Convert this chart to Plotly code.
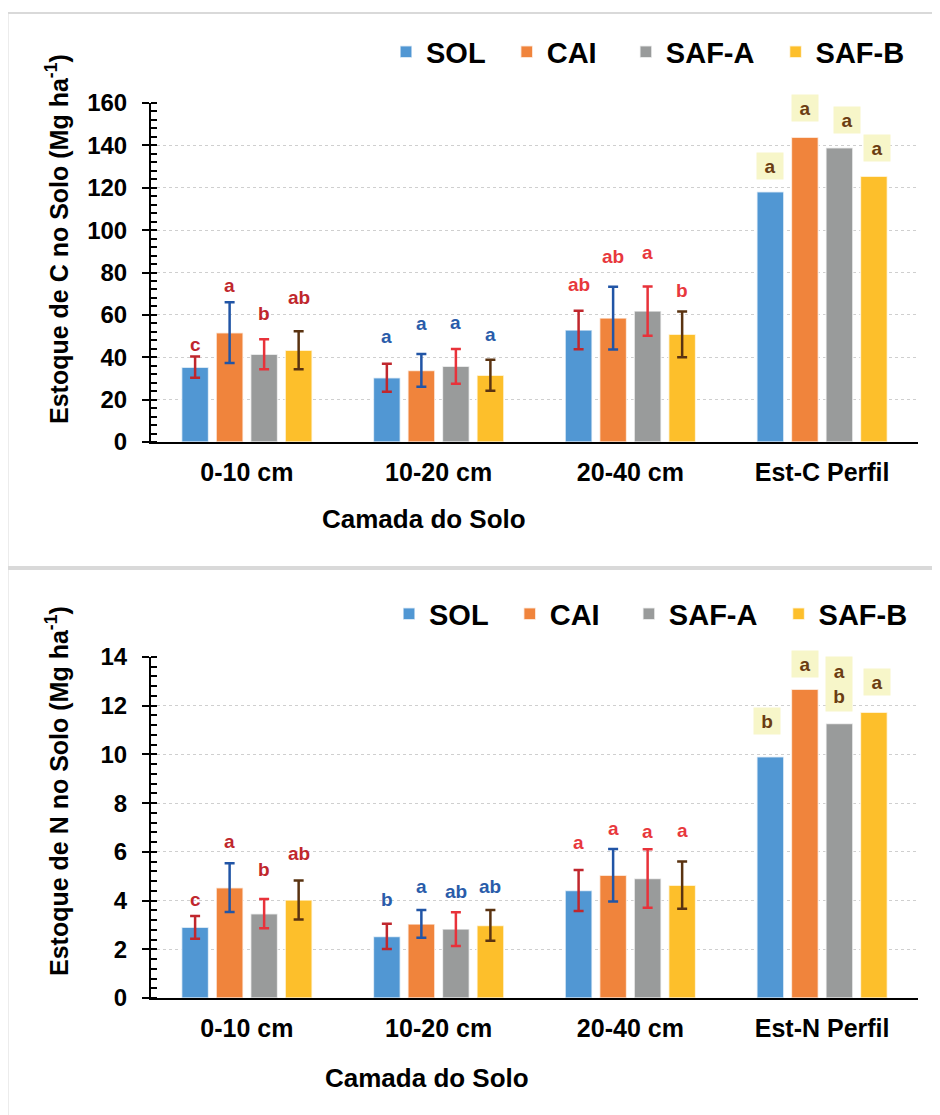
import plotly.graph_objects as go

# ---------------- data ----------------
series = ["SOL", "CAI", "SAF-A", "SAF-B"]
cats_C = ["0-10 cm", "10-20 cm", "20-40 cm", "Est-C Perfil"]
cats_N = ["0-10 cm", "10-20 cm", "20-40 cm", "Est-N Perfil"]

C_SOL = [35.3, 30.3, 52.9, 118.1]
C_CAI = [51.6, 33.8, 58.5, 143.8]
C_SAFA = [41.4, 35.7, 61.8, 138.9]
C_SAFB = [43.3, 31.5, 50.8, 125.4]
C_err_SOL = [5.0, 6.6, 9.1]
C_err_CAI = [14.3, 7.7, 14.8]
C_err_SAFA = [7.1, 8.2, 11.6]
C_err_SAFB = [9.0, 7.3, 10.8]
C_let_SOL = ["c", "a", "ab", "a"]
C_let_CAI = ["a", "a", "ab", "a"]
C_let_SAFA = ["b", "a", "a", "a"]
C_let_SAFB = ["ab", "a", "b", "a"]

N_SOL = [2.90, 2.53, 4.41, 9.90]
N_CAI = [4.53, 3.04, 5.04, 12.68]
N_SAFA = [3.46, 2.83, 4.91, 11.27]
N_SAFB = [4.02, 2.98, 4.63, 11.73]
N_err_SOL = [0.47, 0.52, 0.84]
N_err_CAI = [1.00, 0.57, 1.08]
N_err_SAFA = [0.60, 0.69, 1.20]
N_err_SAFB = [0.80, 0.63, 0.97]
N_let_SOL = ["c", "b", "a", "b"]
N_let_CAI = ["a", "a", "a", "a"]
N_let_SAFA = ["b", "ab", "a", "a<br>b"]
N_let_SAFB = ["ab", "ab", "a", "a"]

# ---------------- style ----------------
W, H = 940, 1115
OFF = 8  # page body margin compensation
bar_colors = ["#5197d3", "#f0843c", "#999b9b", "#fdbf2b"]
err_colors = ["#c0272d", "#2155a6", "#e8323a", "#5a3311"]
group_let_colors = ["#c0272d", "#2a5caa", "#e8383d", "#6b3d12"]
FONT = "Arial, Liberation Sans, sans-serif"
BARGAP, BARGROUPGAP = 0.28, 0.22
NBSP = "\u00a0"

px_l, px_r = 151 - OFF, 918 - OFF
top_px = (103 - OFF, 442 - OFF)
bot_px = (657 - OFF, 998 - OFF)

def fx(p):
    return (p - OFF) / W

def fy(p):
    return 1 - (p - OFF) / H

def ydom(p):
    return [1 - p[1] / H, 1 - p[0] / H]

# label vertical offsets (px above error-bar / bar top), [group][series]
shift_C = [[12, 17, 26, 34], [27, 31, 26, 25], [26, 30, 34, 21], [26, 29, 28, 28]]
shift_N = [[16, 22, 30, 27], [24, 24, 21, 24], [28, 20, 18, 31], [36, 25, 40, 30]]
xadj_C = [0, 0, 8, 3]
xadj_N = [-3, 0, 0, 3]

fig = go.Figure()

panels = [
    dict(cats=cats_C, vals=[C_SOL, C_CAI, C_SAFA, C_SAFB],
         errs=[C_err_SOL, C_err_CAI, C_err_SAFA, C_err_SAFB],
         lets=[C_let_SOL, C_let_CAI, C_let_SAFA, C_let_SAFB],
         xa="x", ya="y", leg="legend", shift=shift_C, xadj=xadj_C),
    dict(cats=cats_N, vals=[N_SOL, N_CAI, N_SAFA, N_SAFB],
         errs=[N_err_SOL, N_err_CAI, N_err_SAFA, N_err_SAFB],
         lets=[N_let_SOL, N_let_CAI, N_let_SAFA, N_let_SAFB],
         xa="x2", ya="y2", leg="legend2", shift=shift_N, xadj=xadj_N),
]

cat_w = (px_r - px_l) / 4
slot = cat_w * (1 - BARGAP) / 4
marker_line = dict(color="rgba(255,255,255,0.7)", width=1.5)

annotations = []
for k, p in enumerate(panels):
    for i, s in enumerate(series):
        nerr = len(p["errs"][i])
        legname = s + NBSP * (3 if i == 1 else 2) if i < 3 else s
        # layers with error bars
        fig.add_trace(go.Bar(
            x=p["cats"][:nerr], y=p["vals"][i][:nerr], name=legname,
            offsetgroup=s, legendgroup=f"{k}{s}",
            marker=dict(color=bar_colors[i], line=marker_line),
            error_y=dict(type="data", array=p["errs"][i], visible=True,
                         color=err_colors[i], thickness=2.5, width=5),
            xaxis=p["xa"], yaxis=p["ya"], legend=p["leg"],
        ))
        # profile totals (no error bars)
        fig.add_trace(go.Bar(
            x=p["cats"][nerr:], y=p["vals"][i][nerr:], name=legname,
            offsetgroup=s, legendgroup=f"{k}{s}", showlegend=False,
            marker=dict(color=bar_colors[i], line=marker_line),
            xaxis=p["xa"], yaxis=p["ya"], legend=p["leg"],
        ))
        for g, cat in enumerate(p["cats"]):
            e = p["errs"][i][g] if g < nerr else 0
            top = p["vals"][i][g] + e
            off = (i - 1.5) * slot
            txt = p["lets"][i][g]
            if g == 3:
                annotations.append(dict(
                    x=cat, y=top, xref=p["xa"], yref=p["ya"], text=txt,
                    showarrow=False, xshift=off + p["xadj"][i], yshift=p["shift"][g][i],
                    yanchor="middle", xanchor="center", bgcolor="#f7f6c9", width=22,
                    height=50 if "<br>" in txt else 22, borderpad=2,
                    font=dict(family=FONT, size=19, color=group_let_colors[g], weight="bold")))
            else:
                annotations.append(dict(
                    x=cat, y=top, xref=p["xa"], yref=p["ya"], text=txt,
                    showarrow=False, xshift=off, yshift=p["shift"][g][i],
                    yanchor="middle", xanchor="center",
                    font=dict(family=FONT, size=19, color=group_let_colors[g], weight="bold")))

# axis titles
title_font = dict(family=FONT, size=26, color="black", weight="bold")
ytitle_font = dict(family=FONT, size=25, color="black", weight="bold")
annotations += [
    dict(x=fx(57), y=fy(239), xref="paper", yref="paper", textangle=-90, showarrow=False,
         xanchor="center", yanchor="middle",
         text="Estoque de C no Solo (Mg ha<sup>-1</sup>)", font=ytitle_font),
    dict(x=fx(57), y=fy(791), xref="paper", yref="paper", textangle=-90, showarrow=False,
         xanchor="center", yanchor="middle",
         text="Estoque de N no Solo (Mg ha<sup>-1</sup>)", font=ytitle_font),
    dict(x=fx(424), y=fy(519), xref="paper", yref="paper", showarrow=False,
         xanchor="center", yanchor="middle", text="Camada do Solo", font=title_font),
    dict(x=fx(427), y=fy(1078), xref="paper", yref="paper", showarrow=False,
         xanchor="center", yanchor="middle", text="Camada do Solo", font=title_font),
]

xtickfont = dict(family=FONT, size=25, color="black", weight="bold")
ytickfont = dict(family=FONT, size=24, color="black", weight="bold")
xcommon = dict(showline=True, linecolor="black", linewidth=2, ticks="", tickfont=xtickfont,
               showgrid=False, ticklabelstandoff=7, automargin=False)
ycommon = dict(showline=True, linecolor="black", linewidth=2, ticks="outside", ticklen=7,
               tickwidth=2, tickcolor="black", tickfont=ytickfont, showgrid=True,
               gridcolor="#cfcfcf", griddash="dot", gridwidth=1.2, zeroline=False,
               ticklabelstandoff=10, automargin=False)
leg_font = dict(family=FONT, size=29, color="black", weight="bold")

fig.update_layout(
    width=W, height=H, margin=dict(l=0, r=0, t=0, b=0, autoexpand=False),
    paper_bgcolor="white", plot_bgcolor="white",
    barmode="group", bargap=BARGAP, bargroupgap=BARGROUPGAP,
    font=dict(family=FONT, color="black"),
    xaxis=dict(domain=[px_l / W, px_r / W], anchor="y", **xcommon),
    yaxis=dict(domain=ydom(top_px), anchor="x", range=[0, 160], dtick=20,
               minor=dict(dtick=4, ticks="inside", ticklen=6, tickwidth=2, tickcolor="black",
                          showgrid=False), **ycommon),
    xaxis2=dict(domain=[px_l / W, px_r / W], anchor="y2", **xcommon),
    yaxis2=dict(domain=ydom(bot_px), anchor="x2", range=[0, 14], dtick=2,
                minor=dict(dtick=0.4, ticks="inside", ticklen=6, tickwidth=2, tickcolor="black",
                           showgrid=False), **ycommon),
    legend=dict(orientation="h", x=fx(910), xanchor="right", y=fy(52), yanchor="middle",
                font=leg_font, itemwidth=30, bgcolor="rgba(0,0,0,0)", traceorder="normal"),
    legend2=dict(orientation="h", x=fx(913), xanchor="right", y=fy(614), yanchor="middle",
                 font=leg_font, itemwidth=30, bgcolor="rgba(0,0,0,0)", traceorder="normal"),
    annotations=annotations,
    shapes=[
        dict(type="rect", xref="paper", yref="paper", x0=fx(7.5), x1=1.05,
             y0=fy(567), y1=fy(13), line=dict(color="#d9d9d9", width=2)),
        dict(type="rect", xref="paper", yref="paper", x0=fx(7.5), x1=1.05,
             y0=-0.05, y1=fy(569), line=dict(color="#d9d9d9", width=2)),
    ],
    showlegend=True,
)

fig.write_html("out.html")
